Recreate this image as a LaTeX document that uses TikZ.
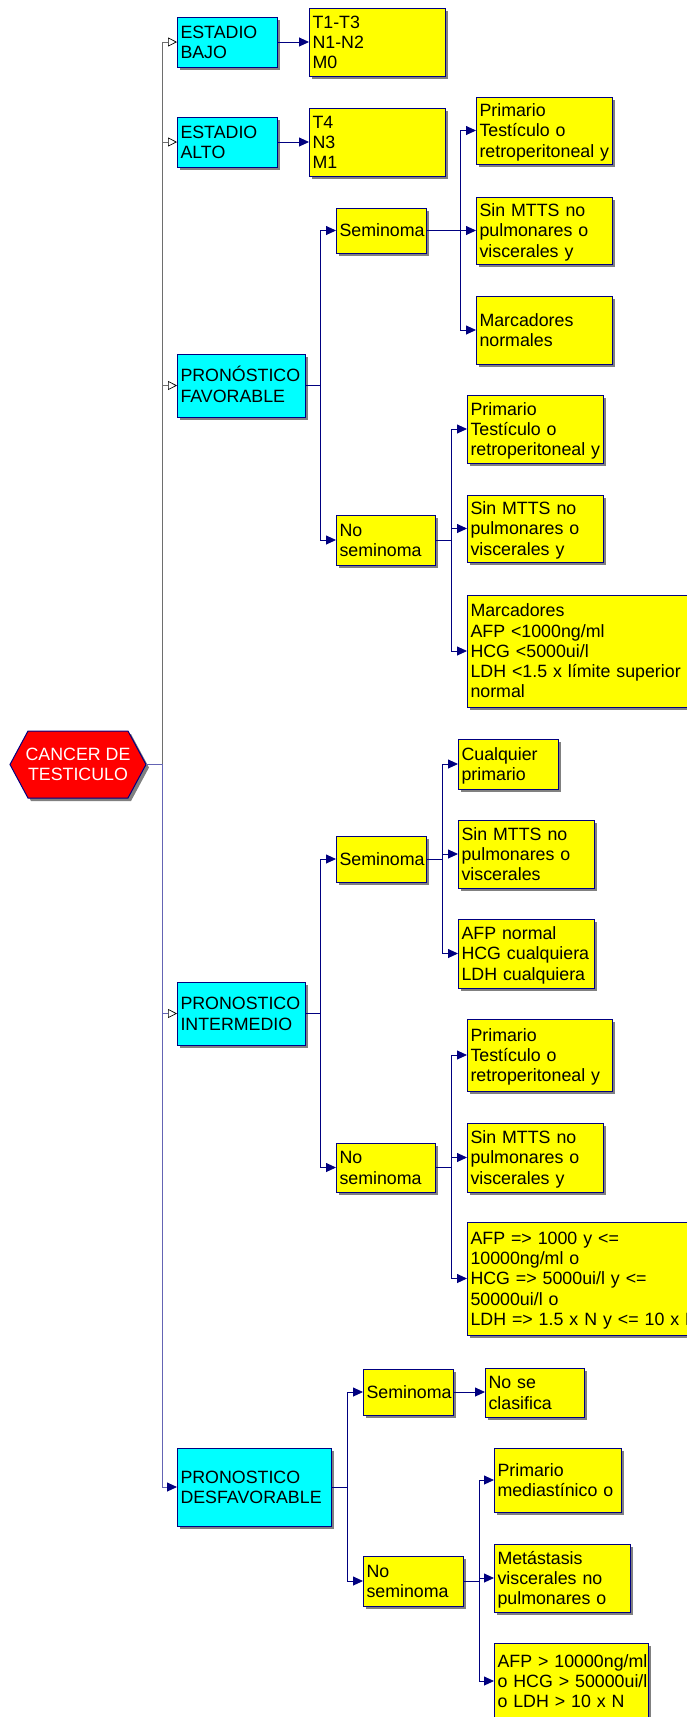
\documentclass[tikz,border=0pt]{standalone}
\usepackage{fontspec}
\usepackage{array}
\setmainfont{Liberation Sans}
\usetikzlibrary{arrows.meta,shadows,backgrounds}

\definecolor{boxline}{RGB}{0,0,128}
\definecolor{cyanfill}{RGB}{0,255,255}
\definecolor{yellowfill}{RGB}{255,255,0}
\definecolor{redfill}{RGB}{255,0,0}
\definecolor{shadowgray}{RGB}{128,128,128}
\definecolor{trunkgray}{RGB}{110,110,110}
\definecolor{trunkblue}{RGB}{100,100,180}

% strut fixing the height, depth and pitch of every text line
\newcommand\bxstrut{\rule[-3.8pt]{0pt}{20.3pt}}
% \mkbox{style}{name}{x1}{y1}{x2}{y2}{text}
% lines are flush left and never wrap; a long line runs past the right edge
\newcommand\mkbox[7]{%
  \pgfmathsetmacro\bxw{#5-#3-7}%
  \pgfmathsetmacro\bxh{#6-#4}%
  \node[#1, anchor=north west, text width=\bxw pt, minimum height=\bxh pt] (#2) at (#3,#4)
    {\renewcommand\arraystretch{0}\begin{tabular}{@{}>{\bxstrut}l@{}}#7\end{tabular}};}

\tikzset{
  txt/.style={font=\fontsize{17.8}{20.3}\selectfont},
  basebox/.style={txt, draw=boxline, line width=1pt, inner xsep=3.5pt, inner ysep=0pt,
    outer sep=0pt,
    general shadow={fill=shadowgray, shadow xshift=3pt, shadow yshift=-3pt}},
  cbox/.style={basebox, fill=cyanfill},
  ybox/.style={basebox, fill=yellowfill},
  link/.style={draw=boxline, line width=0.9pt, -{Triangle[length=10pt,width=9pt]}},
  trunkup/.style={draw=trunkgray, line width=0.9pt,
    -{Triangle[length=9pt,width=9pt,color=black,fill=white,line width=0.7pt]}},
  trunklow/.style={draw=trunkblue, line width=0.9pt,
    -{Triangle[length=9pt,width=9pt,color=black,fill=white,line width=0.7pt]}},
  trunklowfull/.style={draw=trunkblue, line width=0.9pt,
    -{Triangle[length=10pt,width=9pt,color=boxline]}},
}

\begin{document}
\begin{tikzpicture}[x=1pt,y=-1pt]
\useasboundingbox (0,0) rectangle (687,1717);
\clip (0,0) rectangle (687,1717);

% root: hexagon
\node[txt, text=white, align=center, minimum width=136pt, minimum height=67pt,
      inner sep=0pt, outer sep=0pt] (root) at (78,764.5) {CANCER DE\\TESTICULO};
\begin{scope}[on background layer]
  \fill[shadowgray] ([shift={(3,3)}]root.west) -- ([shift={(21,3)}]root.north west)
    -- ([shift={(-15,3)}]root.north east) -- ([shift={(3,3)}]root.east)
    -- ([shift={(-15,3)}]root.south east) -- ([shift={(21,3)}]root.south west) -- cycle;
  \filldraw[fill=redfill, draw=boxline, line width=1pt] (root.west)
    -- ([xshift=18pt]root.north west) -- ([xshift=-18pt]root.north east) -- (root.east)
    -- ([xshift=-18pt]root.south east) -- ([xshift=18pt]root.south west) -- cycle;
\end{scope}

% first level
\mkbox{cbox}{eb}{177}{17}{277}{67}{ESTADIO\\BAJO}
\mkbox{cbox}{ea}{177}{117}{277}{167}{ESTADIO\\ALTO}
\mkbox{cbox}{pf}{177}{354}{305}{417}{PRONÓSTICO\\FAVORABLE}
\mkbox{cbox}{pi}{177}{982}{305}{1045}{PRONOSTICO\\INTERMEDIO}
\mkbox{cbox}{pd}{177}{1448}{331}{1526}{PRONOSTICO\\DESFAVORABLE}

% staging
\mkbox{ybox}{tbajo}{309}{8}{445}{76}{T1-T3\\N1-N2\\M0}
\mkbox{ybox}{talto}{309}{108}{445}{176}{T4\\N3\\M1}

% favourable prognosis
\mkbox{ybox}{fsem}{336}{208}{426}{253}{Seminoma}
\mkbox{ybox}{fsemA}{476}{97}{612}{164}{Primario\\Testículo o\\retroperitoneal y}
\mkbox{ybox}{fsemB}{476}{197}{612}{264}{Sin MTTS no\\pulmonares o\\viscerales y}
\mkbox{ybox}{fsemC}{476}{296}{612}{364}{Marcadores\\normales}
\mkbox{ybox}{fnos}{336}{515}{435}{565}{No\\seminoma}
\mkbox{ybox}{fnosA}{467}{395}{603}{463}{Primario\\Testículo o\\retroperitoneal y}
\mkbox{ybox}{fnosB}{467}{495}{603}{562}{Sin MTTS no\\pulmonares o\\viscerales y}
\mkbox{ybox}{fnosC}{467}{595}{760}{707}{Marcadores\\AFP <1000ng/ml\\HCG <5000ui/l\\LDH <1.5 x límite superior\\normal}

% intermediate prognosis
\mkbox{ybox}{isem}{336}{836}{426}{882}{Seminoma}
\mkbox{ybox}{isemA}{458}{739}{558}{789}{Cualquier\\primario}
\mkbox{ybox}{isemB}{458}{820}{594}{888}{Sin MTTS no\\pulmonares o\\viscerales}
\mkbox{ybox}{isemC}{458}{919}{594}{988}{AFP normal\\HCG cualquiera\\LDH cualquiera}
\mkbox{ybox}{inos}{336}{1143}{435}{1192}{No\\seminoma}
\mkbox{ybox}{inosA}{467}{1019}{612}{1091}{Primario\\Testículo o\\retroperitoneal y}
\mkbox{ybox}{inosB}{467}{1123}{603}{1192}{Sin MTTS no\\pulmonares o\\viscerales y}
\mkbox{ybox}{inosC}{467}{1222}{760}{1335}{AFP => 1000 y <=\\10000ng/ml o\\HCG => 5000ui/l y <=\\50000ui/l o\\LDH => 1.5 x N y <= 10 x N}

% poor prognosis
\mkbox{ybox}{dsem}{363}{1369}{453}{1415}{Seminoma}
\mkbox{ybox}{dsemA}{485}{1368}{584}{1417}{No se\\clasifica}
\mkbox{ybox}{dnos}{363}{1556}{463}{1606}{No\\seminoma}
\mkbox{ybox}{dnosA}{494}{1448}{621}{1512}{Primario\\mediastínico o}
\mkbox{ybox}{dnosB}{494}{1544}{630}{1612}{Metástasis\\viscerales no\\pulmonares o}
\mkbox{ybox}{dnosC}{494}{1643}{648}{1719}{AFP > 10000ng/ml\\o HCG > 50000ui/l\\o LDH > 10 x N}

% trunk from the root
\draw[trunkup] (root.east) -- ++(16,0) |- (eb.west);
\draw[trunkup] (root.east) -- ++(16,0) |- (ea.west);
\draw[trunkup] (root.east) -- ++(16,0) |- (pf.west);
\draw[trunklow] (root.east) -- ++(16,0) |- (pi.west);
\draw[trunklowfull] (root.east) -- ++(16,0) |- (pd.west);

% staging links
\draw[link] (eb.east) -- (tbajo.west);
\draw[link] (ea.east) -- (talto.west);

% favourable
\draw[link] (pf.east) -- ++(15,0) |- (fsem.west);
\draw[link] (pf.east) -- ++(15,0) |- (fnos.west);
\draw[link] (fsem.east) -- ++(34,0) |- (fsemA.west);
\draw[link] (fsem.east) -- ++(34,0) |- (fsemB.west);
\draw[link] (fsem.east) -- ++(34,0) |- (fsemC.west);
\draw[link] (fnos.east) -- ++(16,0) |- (fnosA.west);
\draw[link] (fnos.east) -- ++(16,0) |- (fnosB.west);
\draw[link] (fnos.east) -- ++(16,0) |- (fnosC.west);

% intermediate
\draw[link] (pi.east) -- ++(15,0) |- (isem.west);
\draw[link] (pi.east) -- ++(15,0) |- (inos.west);
\draw[link] (isem.east) -- ++(16,0) |- (isemA.west);
\draw[link] (isem.east) -- ++(16,0) |- (isemB.west);
\draw[link] (isem.east) -- ++(16,0) |- (isemC.west);
\draw[link] (inos.east) -- ++(16,0) |- (inosA.west);
\draw[link] (inos.east) -- ++(16,0) |- (inosB.west);
\draw[link] (inos.east) -- ++(16,0) |- (inosC.west);

% poor
\draw[link] (pd.east) -- ++(16,0) |- (dsem.west);
\draw[link] (pd.east) -- ++(16,0) |- (dnos.west);
\draw[link] (dsem.east) -- (dsem.east -| dsemA.west);
\draw[link] (dnos.east) -- ++(16,0) |- (dnosA.west);
\draw[link] (dnos.east) -- ++(16,0) |- (dnosB.west);
\draw[link] (dnos.east) -- ++(16,0) |- (dnosC.west);
\end{tikzpicture}
\end{document}
